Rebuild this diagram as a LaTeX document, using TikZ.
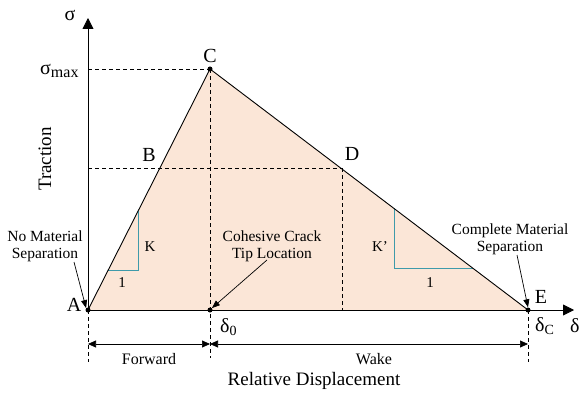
\documentclass[tikz,border=0pt]{standalone}
\usepackage{fontspec}
\setmainfont{Liberation Serif}
\usetikzlibrary{arrows.meta}
\definecolor{peach}{HTML}{FBE6D7}
\definecolor{teal2}{HTML}{3E9AAA}
\begin{document}
\begin{tikzpicture}[x=1pt,y=-1pt,
  axisarrow/.style={-{Triangle[length=11pt,width=11pt]},line width=0.8pt},
  dimarrow/.style={{Triangle[length=8pt,width=7pt]}-{Triangle[length=8pt,width=7pt]},line width=0.7pt},
  notearrow/.style={-{Triangle[length=8pt,width=6pt]},line width=0.7pt},
  guide/.style={dashed,line width=0.7pt,dash pattern=on 4pt off 3pt},
  slope/.style={teal2,line width=1pt},
  dot/.style={circle,fill=black,inner sep=0pt,minimum size=5pt},
  ptlabel/.style={font=\fontsize{20}{22}\selectfont,inner sep=0pt},
  note/.style={font=\fontsize{15.5}{17}\selectfont,align=center,inner sep=0pt},
  small/.style={font=\fontsize{15}{17}\selectfont,inner sep=0pt}]
\useasboundingbox (0,0) rectangle (582,396);
\coordinate (A) at (88,310);
\coordinate (C) at (210,69);
\coordinate (E) at (528,310);
\coordinate (F) at (210,310);
\coordinate (B) at (160,168);
\coordinate (D) at (342,168);
\coordinate (ytip) at (88,18);
\coordinate (xtip) at (574,310);
\coordinate (smaxL) at (88,69);
\coordinate (bL) at (88,168);
\coordinate (Cbot) at (210,358);
\coordinate (Dbot) at (342,310);
\coordinate (Abot) at (88,362);
\coordinate (Ebot) at (528,362);
\coordinate (d1) at (88,344);
\coordinate (d2) at (210,344);
\coordinate (d3) at (528,344);
% fill
\fill[peach] (A) -- (C) -- (E) -- cycle;
% guides
\draw[guide] (smaxL) -- (C);
\draw[guide] (C) -- (Cbot);
\draw[guide] (bL) -- (D);
\draw[guide] (D) -- (Dbot);
\draw[guide] (A) -- (Abot);
\draw[guide] (E) -- (Ebot);
% slope triangles
\draw[slope] (138,211) -- (138,270) -- (108.2,270);
\draw[slope] (394,208.4) -- (394,268) -- (472.5,268);
% curve
\draw[line width=0.9pt] (A) -- (C) -- (E);
% axes
\draw[axisarrow] (A) -- (ytip);
\draw[axisarrow] (A) -- (xtip);
% dots
\node[dot] (nA) at (A) {};
\node[dot] (nC) at (C) {};
\node[dot] (nF) at (F) {};
\node[dot] (nE) at (E) {};
% dimension arrows
\draw[dimarrow] (d1) -- (d2);
\draw[dimarrow] (d2) -- (d3);
% labels
\node[ptlabel] (lsig) at (70,15) {σ};
\node[ptlabel,anchor=west] (lsmax) at (40,71) {σ\textsubscript{\fontsize{16}{18}\selectfont max}};
\node[ptlabel] (lC) at (210,56) {C};
\node[ptlabel] (lB) at (149,155) {B};
\node[ptlabel] (lD) at (352,154) {D};
\node[ptlabel] (lE) at (541,297) {E};
\node[ptlabel] (lA) at (74,305) {A};
\node[ptlabel,anchor=west] (ld0) at (220,327) {δ\textsubscript{0}};
\node[ptlabel,anchor=west] (ldc) at (535,326) {δ\textsubscript{C}};
\node[ptlabel,anchor=west] (ld) at (570,326) {δ};
\node[font=\fontsize{19}{21}\selectfont,rotate=90,inner sep=0pt] (ltr) at (45,159) {Traction};
\node[font=\fontsize{19}{21}\selectfont,inner sep=0pt] (lrd) at (314,381) {Relative Displacement};
\node[font=\fontsize{16}{18}\selectfont,inner sep=0pt] (lfw) at (149,359) {Forward};
\node[font=\fontsize{16}{18}\selectfont,inner sep=0pt] (lwk) at (374,359) {Wake};
\node[small] (lK) at (150,247) {K};
\node[small] (l1a) at (122,283) {1};
\node[small] (lK2) at (380,247) {K’};
\node[small] (l1b) at (430,283) {1};
% notes
\node[note] (n1) at (45,246) {No Material\\Separation};
\node[note] (n2) at (272,246) {Cohesive Crack\\Tip Location};
\node[note] (n3) at (510,239) {Complete Material\\Separation};
\draw[notearrow] (74,262) -- (nA.north west);
\draw[notearrow] (267,260) -- (nF.north east);
\draw[notearrow] (517,255) -- (nE.north);
\end{tikzpicture}
\end{document}
